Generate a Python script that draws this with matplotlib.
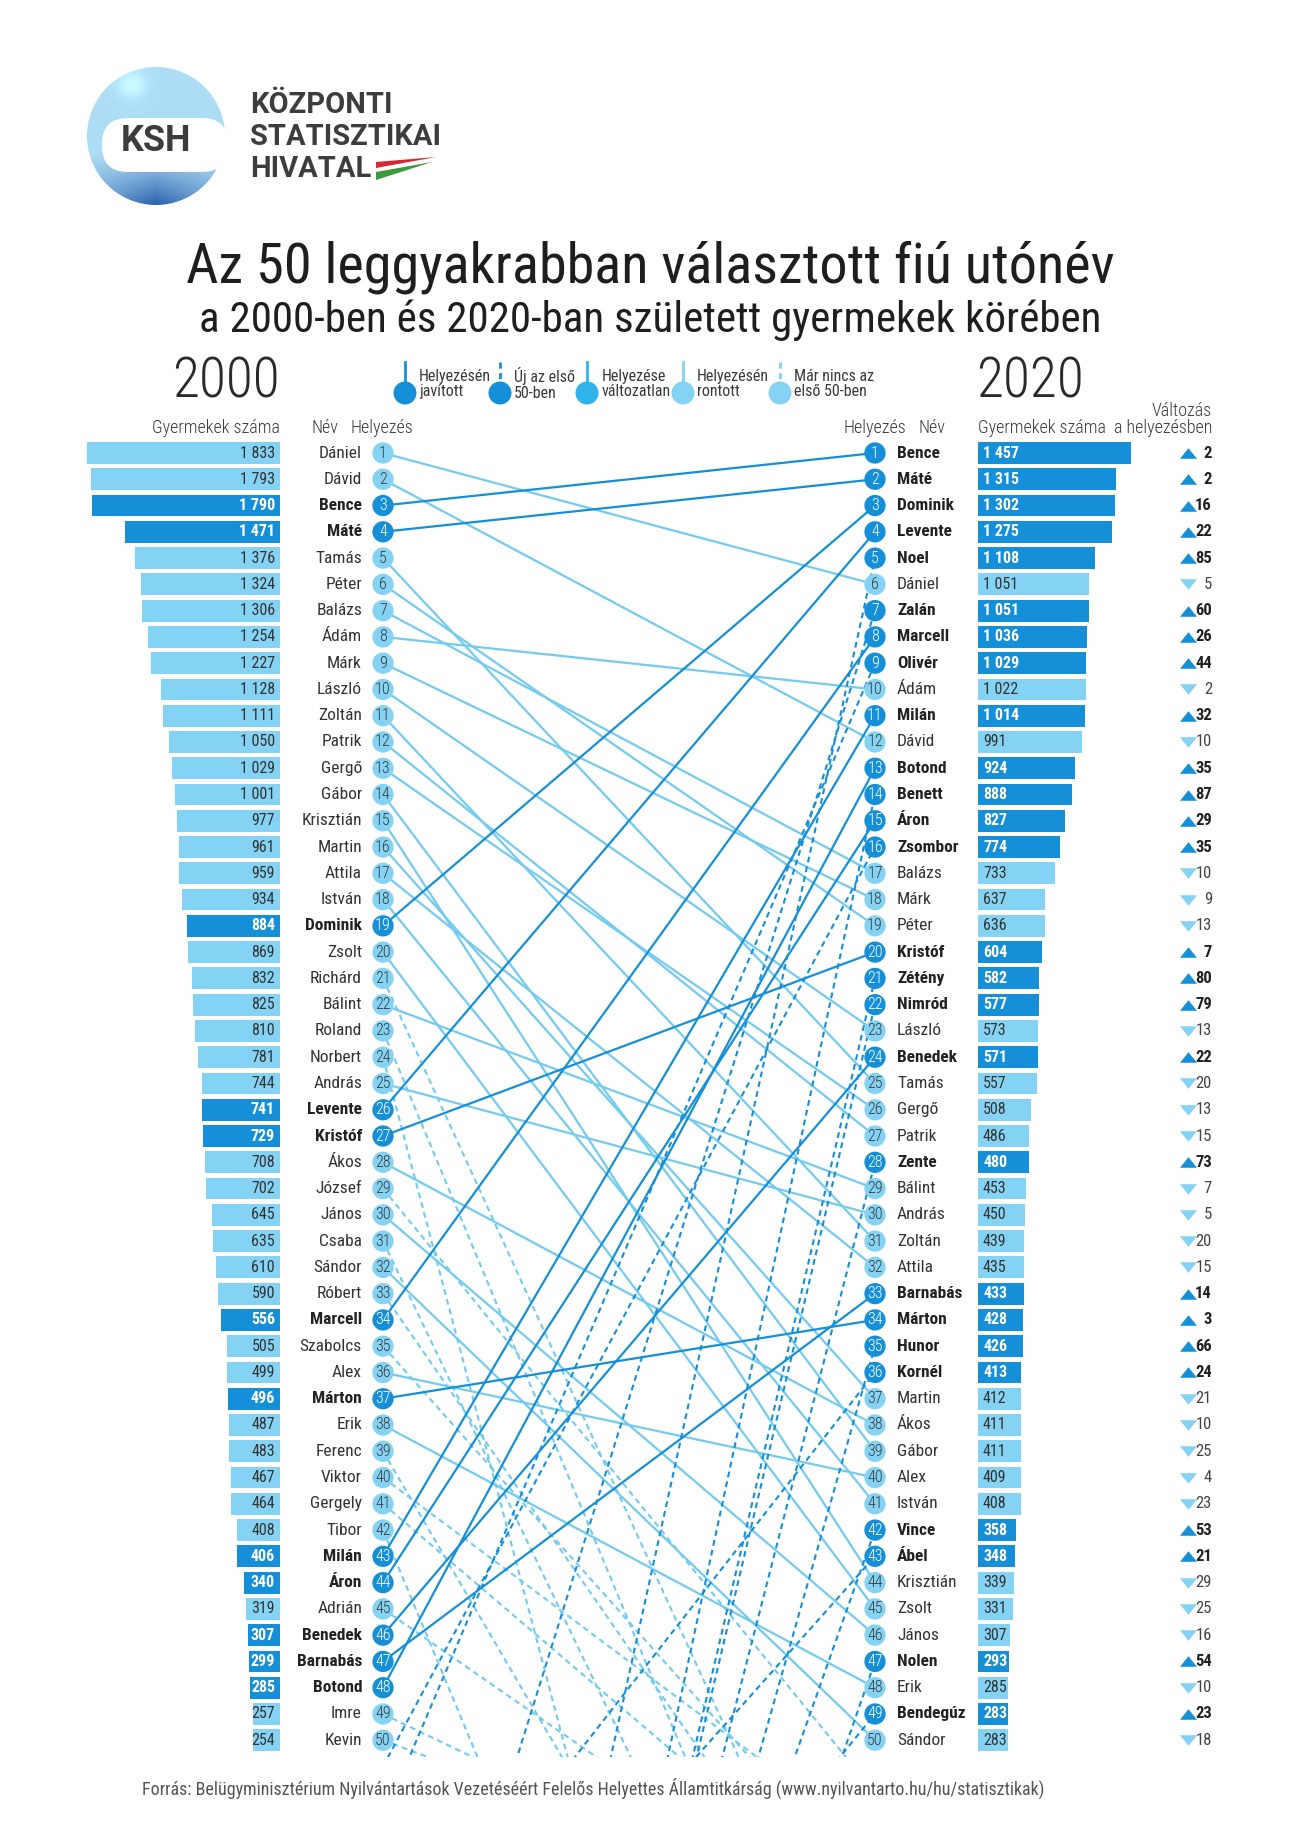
import numpy as np
import matplotlib
matplotlib.use('Agg')
import matplotlib.pyplot as plt
from matplotlib.transforms import blended_transform_factory
from matplotlib.patches import Circle, FancyBboxPatch, Polygon

# --- adatok ---------------------------------------------------------------
nevek_2000 = ['Dániel', 'Dávid', 'Bence', 'Máté', 'Tamás', 'Péter', 'Balázs', 'Ádám', 'Márk', 'László',
              'Zoltán', 'Patrik', 'Gergő', 'Gábor', 'Krisztián', 'Martin', 'Attila', 'István', 'Dominik', 'Zsolt',
              'Richárd', 'Bálint', 'Roland', 'Norbert', 'András', 'Levente', 'Kristóf', 'Ákos', 'József', 'János',
              'Csaba', 'Sándor', 'Róbert', 'Marcell', 'Szabolcs', 'Alex', 'Márton', 'Erik', 'Ferenc', 'Viktor',
              'Gergely', 'Tibor', 'Milán', 'Áron', 'Adrián', 'Benedek', 'Barnabás', 'Botond', 'Imre', 'Kevin']
szam_2000 = [1833, 1793, 1790, 1471, 1376, 1324, 1306, 1254, 1227, 1128,
             1111, 1050, 1029, 1001, 977, 961, 959, 934, 884, 869,
             832, 825, 810, 781, 744, 741, 729, 708, 702, 645,
             635, 610, 590, 556, 505, 499, 496, 487, 483, 467,
             464, 408, 406, 340, 319, 307, 299, 285, 257, 254]

nevek_2020 = ['Bence', 'Máté', 'Dominik', 'Levente', 'Noel', 'Dániel', 'Zalán', 'Marcell', 'Olivér', 'Ádám',
              'Milán', 'Dávid', 'Botond', 'Benett', 'Áron', 'Zsombor', 'Balázs', 'Márk', 'Péter', 'Kristóf',
              'Zétény', 'Nimród', 'László', 'Benedek', 'Tamás', 'Gergő', 'Patrik', 'Zente', 'Bálint', 'András',
              'Zoltán', 'Attila', 'Barnabás', 'Márton', 'Hunor', 'Kornél', 'Martin', 'Ákos', 'Gábor', 'Alex',
              'István', 'Vince', 'Ábel', 'Krisztián', 'Zsolt', 'János', 'Nolen', 'Erik', 'Bendegúz', 'Sándor']
szam_2020 = [1457, 1315, 1302, 1275, 1108, 1051, 1051, 1036, 1029, 1022,
             1014, 991, 924, 888, 827, 774, 733, 637, 636, 604,
             582, 577, 573, 571, 557, 508, 486, 480, 453, 450,
             439, 435, 433, 428, 426, 413, 412, 411, 411, 409,
             408, 358, 348, 339, 331, 307, 293, 285, 283, 283]
valtozas = [2, 2, 16, 22, 85, -5, 60, 26, 44, -2,
            32, -10, 35, 87, 29, 35, -10, -9, -13, 7,
            80, 79, -13, 22, -20, -13, -15, 73, -7, -5,
            -20, -15, 14, 3, 66, 24, -21, -10, -25, -4,
            -23, 53, 21, -29, -25, -16, 54, -10, 23, -18]

# 2020-ban kiesettek becsült helyezése (csak a vonalak meredekségéből)
kiesett_nevek = ['Richárd', 'Roland', 'Norbert', 'József', 'Csaba', 'Róbert', 'Szabolcs',
                 'Ferenc', 'Viktor', 'Gergely', 'Tibor', 'Adrián', 'Imre', 'Kevin']
kiesett_helyezes = [62, 68, 95, 52, 70, 60, 56, 71, 54, 57, 87, 58, 58, 57]

# --- stílus -----------------------------------------------------------------
plt.rcParams['font.family'] = ['Roboto Condensed', 'DejaVu Sans']

SOTET = '#1590d8'
KOZEP = '#2fb5ec'
VILAGOS = '#84d3f4'
VONAL_V = '#74cbf0'
SZOVEG = '#333333'

W, H = 1300, 1838
ROW1, ROWH = 453, 26.27
TOP_R, BOT_R = 0.5, 50.65
y_top = ROW1 + (TOP_R - 1) * ROWH
y_bot = ROW1 + (BOT_R - 1) * ROWH
PX = 0.1053  # pixel / gyerek

fig = plt.figure(figsize=(W / 100, H / 100), dpi=100)
cv = fig.add_axes([0, 0, 1, 1])
cv.set_xlim(0, W)
cv.set_ylim(H, 0)
cv.axis('off')


def rect(x0, x1):
    return [x0 / W, 1 - y_bot / H, (x1 - x0) / W, (y_bot - y_top) / H]


mid = fig.add_axes(rect(383, 875))
mid.set_xlim(0, 1)
mid.set_ylim(BOT_R, TOP_R)
mid.axis('off')

axl = fig.add_axes(rect(280 - 2000 * PX, 280))
axl.set_xlim(2000, 0)
axl.set_ylim(BOT_R, TOP_R)
axl.axis('off')

axr = fig.add_axes(rect(978, 978 + 2000 * PX))
axr.set_xlim(0, 2000)
axr.set_ylim(BOT_R, TOP_R)
axr.axis('off')

tr = blended_transform_factory(cv.transData, mid.transData)

rank = np.arange(1, 51)
rank_2020_of = {n: i + 1 for i, n in enumerate(nevek_2020)}
rank_2000_of = {n: i + 1 for i, n in enumerate(nevek_2000)}
javult_2000 = [n in rank_2020_of and rank_2020_of[n] < rank_2000_of[n] for n in nevek_2000]
javult_2020 = [v > 0 for v in valtozas]

# --- bal oldal: 2000 ----------------------------------------------------------
axl.barh(rank, szam_2000, height=0.83, color=[SOTET if j else VILAGOS for j in javult_2000])
for r, n, v, j in zip(rank, nevek_2000, szam_2000, javult_2000):
    axl.text(275, r, f'{v:,}'.replace(',', ' '), transform=tr, ha='right', va='center',
             fontsize=11.5, color='white' if j else SZOVEG, fontweight='bold' if j else 'normal')
    cv.text(362, r, n, transform=tr, ha='right', va='center', fontsize=12.5,
            color='#222' if j else SZOVEG, fontweight='bold' if j else 'normal')

# --- jobb oldal: 2020 ---------------------------------------------------------
axr.barh(rank, szam_2020, height=0.83, color=[SOTET if j else VILAGOS for j in javult_2020])
for r, n, v, d in zip(rank, nevek_2020, szam_2020, valtozas):
    j = d > 0
    axr.text(983, r, f'{v:,}'.replace(',', ' '), transform=tr, ha='left', va='center',
             fontsize=11.5, color='white' if j else SZOVEG, fontweight='bold' if j else 'normal')
    cv.text(897, r, n, transform=tr, ha='left', va='center', fontsize=12.5,
            color='#222' if j else SZOVEG, fontweight='bold' if j else 'normal')
    cv.text(1212, r, str(abs(d)), transform=tr, ha='right', va='center', fontsize=12,
            color='#222' if j else '#444', fontweight='bold' if j else 'normal')

up = [(-1, -0.62), (1, -0.62), (0, 0.62)]
down = [(-1, 0.62), (1, 0.62), (0, -0.62)]
up_r = [r for r, d in zip(rank, valtozas) if d > 0]
dn_r = [r for r, d in zip(rank, valtozas) if d < 0]
cv.scatter([1188] * len(up_r), up_r, marker=up, s=150, color=SOTET, transform=tr, lw=0)
cv.scatter([1188] * len(dn_r), dn_r, marker=down, s=150, color=VILAGOS, transform=tr, lw=0)

# --- összekötő vonalak --------------------------------------------------------
for n in nevek_2000:
    r0 = rank_2000_of[n]
    if n in rank_2020_of:
        r1 = rank_2020_of[n]
        c = SOTET if r1 < r0 else (KOZEP if r1 == r0 else VONAL_V)
        mid.plot([0, 1], [r0, r1], color=c, lw=1.6, solid_capstyle='butt', zorder=3 if r1 < r0 else 2)
for n, r1 in zip(kiesett_nevek, kiesett_helyezes):
    mid.plot([0, 1], [rank_2000_of[n], r1], color=VONAL_V, lw=1.5, ls=(0, (2.8, 2.0)), zorder=2)
for n, d in zip(nevek_2020, valtozas):
    if n not in rank_2000_of:
        r1 = rank_2020_of[n]
        mid.plot([0, 1], [r1 + d, r1], color=SOTET, lw=1.5, ls=(0, (2.8, 2.0)), zorder=3)

# körök a helyezésekkel
for x, jav in ((0, javult_2000), (1, javult_2020)):
    mid.scatter([x] * 50, rank, s=235, color=[SOTET if j else VILAGOS for j in jav],
                lw=0, zorder=5, clip_on=False)
    for r, j in zip(rank, jav):
        mid.text(x, r, str(r), ha='center', va='center', fontsize=11.5, fontweight='light',
                 color='white' if j else '#3a3a3a', zorder=6, clip_on=False)

# --- fejlécek -------------------------------------------------------------------
cv.text(280, 382, '2000', ha='right', va='center', fontsize=40, fontweight='light', color='#2a2a2a')
cv.text(976, 382, '2020', ha='left', va='center', fontsize=40, fontweight='light', color='#2a2a2a')
hk = dict(va='center', fontsize=13, fontweight='light', color='#3a3a3a')
cv.text(280, 428, 'Gyermekek száma', ha='right', **hk)
cv.text(338, 428, 'Név', ha='right', **hk)
cv.text(382, 428, 'Helyezés', ha='center', **hk)
cv.text(875, 428, 'Helyezés', ha='center', **hk)
cv.text(918, 428, 'Név', ha='left', **hk)
cv.text(978, 428, 'Gyermekek száma', ha='left', **hk)
cv.text(1212, 428, 'a helyezésben', ha='right', **hk)
cv.text(1212, 411, 'Változás', ha='right', **hk)

# jelmagyarázat
jelek = [('Helyezésén\njavított', SOTET, '-', 405, 419),
         ('Új az első\n50-ben', SOTET, '--', 500, 514),
         ('Helyezése\nváltozatlan', KOZEP, '-', 587, 602),
         ('Helyezésén\nrontott', VILAGOS, '-', 683, 697),
         ('Már nincs az\nelső 50-ben', VILAGOS, '--', 780, 794)]
for txt, c, ls, xc, xt in jelek:
    cv.plot([xc, xc], [362, 390], color=c, lw=2, ls=ls if ls == '-' else (0, (2.2, 1.6)))
    cv.add_patch(Circle((xc, 393), 11.5, color=c, lw=0))
    cv.text(xt, 384, txt, ha='left', va='center', fontsize=11.5,
            color='#3a3a3a', linespacing=1.05)

# cím
cv.text(650, 267, 'Az 50 leggyakrabban választott fiú utónév', ha='center', va='center',
        fontsize=40.5, color='#1e1e1e')
cv.text(650, 320, 'a 2000-ben és 2020-ban született gyermekek körében', ha='center', va='center',
        fontsize=31, color='#1e1e1e')

cv.text(142, 1788, 'Forrás: Belügyminisztérium Nyilvántartások Vezetéséért Felelős Helyettes Államtitkárság '
        '(www.nyilvantarto.hu/hu/statisztikak)', ha='left', va='center', fontsize=13, color='#555')

# --- KSH logó ------------------------------------------------------------------
cx, cy, rr = 156, 136, 69
u, v = np.meshgrid(np.linspace(-1, 1, 200), np.linspace(-1, 1, 200))
light = np.array([0.68, 0.87, 0.96])
dark = np.array([0.17, 0.38, 0.68])
t = np.clip((v - 0.25) / 0.75, 0, 1) * (1 - 0.6 * np.abs(u))
img = light[None, None, :] * (1 - t[..., None]) + dark[None, None, :] * t[..., None]
img = np.clip(img + 0.12 * np.exp(-((u + 0.35) ** 2 + (v + 0.75) ** 2) / 0.04)[..., None], 0, 1)
im = cv.imshow(img, extent=(cx - rr, cx + rr, cy + rr, cy - rr), zorder=1, interpolation='bilinear')
im.set_clip_path(Circle((cx, cy), rr, transform=cv.transData))
cv.set_xlim(0, W)
cv.set_ylim(H, 0)
cv.set_aspect('auto')
cv.add_patch(FancyBboxPatch((102, 118), 126, 54, boxstyle='round,pad=0,rounding_size=26',
                            fc='white', ec='none', zorder=2))
cv.text(156, 141, 'KSH', ha='center', va='center', fontsize=26, fontweight='bold',
        color='#3c3c3c', family='Roboto', zorder=3)
for i, s in enumerate(['KÖZPONTI', 'STATISZTIKAI', 'HIVATAL']):
    cv.text(250, 105 + i * 32, s, ha='left', va='center', fontsize=21, fontweight='bold',
            color='#3d3d3d', family='Roboto')
cv.add_patch(Polygon([(376, 162), (436, 157), (376, 168)], color='#d8272e', lw=0))
cv.add_patch(Polygon([(376, 172), (432, 162), (376, 180)], color='#3a9a3c', lw=0))

fig.savefig('out.png', dpi=100)
